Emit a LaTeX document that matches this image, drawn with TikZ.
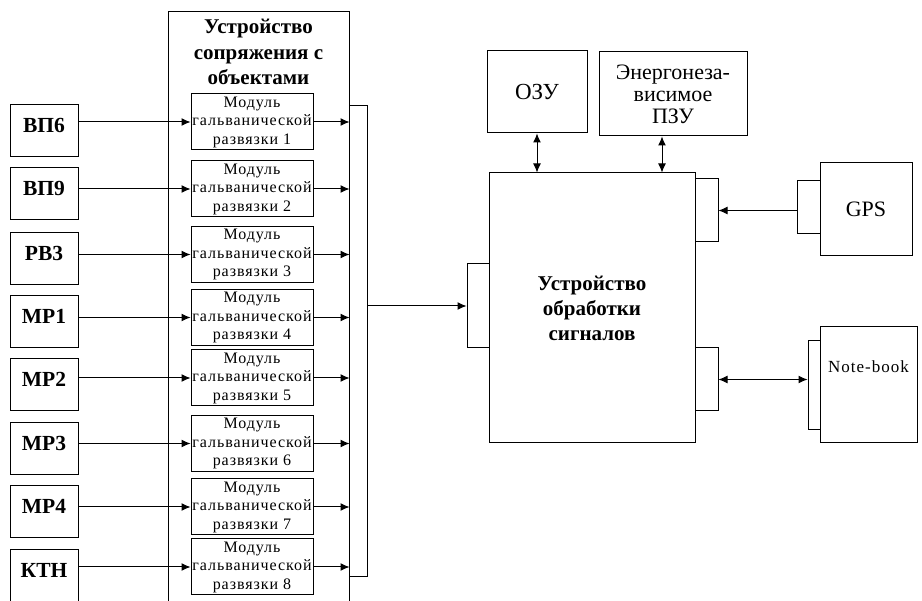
\documentclass[tikz,border=0pt]{standalone}
\usepackage{fontspec}
\setmainfont{Liberation Serif}
\newfontfamily\modfont[LetterSpace=6]{Liberation Serif}
\usetikzlibrary{arrows.meta}

\begin{document}
\begin{tikzpicture}[x=1pt, y=-1pt, line width=1pt,
box/.style={draw, inner sep=0pt, align=center},
inbox/.style={box, minimum width=68pt, minimum height=52pt,
  font=\bfseries\fontsize{21.5}{24}\selectfont, text height=28pt, text depth=24pt},
modbox/.style={box, minimum width=122pt, minimum height=56pt,
  font=\modfont\fontsize{16}{18.5}\selectfont},
port/.style={draw, inner sep=0pt},
>={Latex[length=9pt,width=8pt]}]
\path[use as bounding box, clip] (0,0) rectangle (922,601);
\node[box, minimum width=181pt, minimum height=603pt] (iface) at (258.5,313.5) {};
\node[align=center, font=\bfseries\fontsize{21}{25.5}\selectfont] (ifacetitle) at (258.5,52)
  {Устройство\\сопряжения с\\объектами};
\foreach \lab/\yin/\ymod [count=\i] in {ВП6/131/122, ВП9/194/189, РВ3/258.5/254.5,
  МР1/322/317.5, МР2/385/378, МР3/449/443.5, МР4/511.5/507, КТН/576/567}
{
  \node[inbox] (in\i) at (44,\yin) {\lab};
  \node[modbox] (mod\i) at (252,\ymod) {Модуль\\гальванической\\развязки \i};
  \path[->] (in\i.east |- mod\i.west) edge (mod\i.west)
            (mod\i.east) edge (mod\i.east -| iface.east);
}
\coordinate (bt) at (367,106);
\coordinate (bb) at (367,577);
\draw (iface.east |- bt) -- (bt) -- (bb) -- (iface.east |- bb);
\node[box, minimum width=206pt, minimum height=270pt,
  font=\bfseries\fontsize{21}{25}\selectfont] (cpu) at (592,308)
  {Устройство\\обработки\\сигналов};
\node[port, minimum width=22pt, minimum height=84pt] (pin) at (478,306) {};
\node[port, minimum width=23pt, minimum height=63pt] (gpsin) at (706.5,210.5) {};
\node[port, minimum width=23pt, minimum height=63pt] (nbin) at (706.5,379.5) {};
\node[box, minimum width=100pt, minimum height=82pt, font=\fontsize{23}{24}\selectfont] (ram) at (537,92) {ОЗУ};
\node[box, minimum width=148pt, minimum height=84pt, font=\fontsize{22}{22}\selectfont] (rom) at (673,94)
  {Энергонеза-\\висимое\\ПЗУ};
\node[box, minimum width=92pt, minimum height=93pt, font=\fontsize{22}{24}\selectfont] (gps) at (866,209.5) {GPS};
\node[port, minimum width=23pt, minimum height=53pt] (gpsout) at (808.5,207.5) {};
\node[box, minimum width=97pt, minimum height=116pt, text height=46pt, text depth=70pt,
  font=\modfont\fontsize{17}{18}\selectfont] (nb) at (868.5,385) {Note-book};
\node[port, minimum width=12pt, minimum height=89pt] (nbout) at (814,385.5) {};
\path[->] (bt |- pin.west) edge (pin.west)
          (gpsout.west |- gpsin.east) edge (gpsin.east);
\path[<->] (ram.south) edge (ram.south |- cpu.north)
           ([xshift=-11pt]rom.south) edge ([xshift=-11pt]rom.south |- cpu.north)
           (nbin.east) edge (nbin.east -| nbout.west);
\end{tikzpicture}
\end{document}
